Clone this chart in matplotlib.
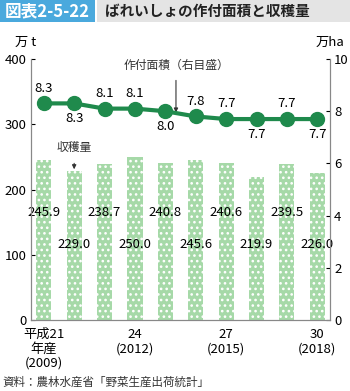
import matplotlib
matplotlib.use("Agg")
import matplotlib.pyplot as plt
from matplotlib.patches import Rectangle

plt.rcParams["font.family"] = ["Noto Sans CJK JP", "DejaVu Sans"]
plt.rcParams["hatch.linewidth"] = 1.1

# ---------------------------------------------------------------------------
# Data
# ---------------------------------------------------------------------------
years = list(range(10))
harvest = [245.9, 229.0, 238.7, 250.0, 240.8, 245.6, 240.6, 219.9, 239.5, 226.0]   # 万t
area = [8.3, 8.3, 8.1, 8.1, 8.0, 7.8, 7.7, 7.7, 7.7, 7.7]                           # 万ha
area_label_side = [1, -1, 1, 1, -1, 1, 1, -1, 1, -1]     # above / below the marker
tick_pos = [0, 3, 6, 9]
tick_labels = ["平成21\n年産\n(2009)", "24\n(2012)", "27\n(2015)", "30\n(2018)"]

BAR_COLOR = "#a6d9a8"
LINE_COLOR = "#1f8a4c"
HEAD_BLUE = "#4aa9dd"
HEAD_GRAY = "#e4e4e4"

fig = plt.figure(figsize=(3.5, 3.91), dpi=100)
ax = fig.add_axes([0.0886, 0.1816, 0.8544, 0.6674])
ax2 = ax.twinx()

# bars (left axis)
ax.bar(years, harvest, width=0.5, color=BAR_COLOR, edgecolor="white",
       linewidth=0, hatch="...", zorder=2)
for i, v in enumerate(harvest):
    ly = 165 if i % 2 == 0 else 116
    ax.text(i, ly, f"{v:.1f}", ha="center", va="center", fontsize=9.5, zorder=5)

ax.set_xlim(-0.42, 9.42)
ax.set_ylim(0, 400)
ax.set_yticks([0, 100, 200, 300, 400])
ax.set_xticks(tick_pos)
ax.set_xticklabels(tick_labels, fontsize=9.5, linespacing=1.1)
ax.tick_params(axis="x", length=0, pad=6)
ax.tick_params(axis="y", direction="in", length=3, labelsize=9.5, pad=3)
for s in ["top"]:
    ax.spines[s].set_visible(False)
    ax2.spines[s].set_visible(False)
for a in (ax, ax2):
    for s in ["left", "right", "bottom"]:
        a.spines[s].set_color("#888888")
        a.spines[s].set_linewidth(0.8)

# line (right axis)
ax2.plot(years, area, color=LINE_COLOR, lw=3, marker="o", markersize=10, zorder=4)
for i, v in enumerate(area):
    ax2.annotate(f"{v:.1f}", (i, v), xytext=(0, 11 * area_label_side[i]),
                 textcoords="offset points", ha="center", va="center", fontsize=9.5)
ax2.set_ylim(0, 10)
ax2.set_yticks([0, 2, 4, 6, 8, 10])
ax2.tick_params(axis="y", direction="in", length=3, labelsize=9.5, pad=3)

# callouts
ax2.annotate("作付面積（右目盛）", xy=(4.35, 7.95), xytext=(4.35, 9.75),
             ha="center", va="center", fontsize=8.5, color="#333333",
             arrowprops=dict(arrowstyle="-|>", color="#333333", lw=0.8,
                             mutation_scale=6, shrinkA=4, shrinkB=0))
ax.annotate("収穫量", xy=(1, harvest[1] + 2), xytext=(1, 265),
            ha="center", va="center", fontsize=8.5, color="#333333",
            arrowprops=dict(arrowstyle="-|>", color="#333333", lw=0.8,
                            mutation_scale=6, shrinkA=5, shrinkB=0))

# unit labels
fig.text(0.043, 0.892, "万 t", fontsize=9.5, ha="left", va="center")
fig.text(0.985, 0.892, "万ha", fontsize=9.5, ha="right", va="center")

# header
fig.patches.append(Rectangle((0, 0.944), 0.271, 0.056, transform=fig.transFigure,
                             facecolor=HEAD_BLUE, edgecolor="none"))
fig.patches.append(Rectangle((0.277, 0.944), 0.723, 0.056, transform=fig.transFigure,
                             facecolor=HEAD_GRAY, edgecolor="none"))
fig.text(0.135, 0.972, "図表2-5-22", color="white", fontsize=12, fontweight="bold",
         ha="center", va="center")
fig.text(0.300, 0.972, "ばれいしょの作付面積と収穫量", color="#222222", fontsize=10.5,
         fontweight="bold", ha="left", va="center")

# source
fig.text(0.006, 0.022, "資料：農林水産省「野菜生産出荷統計」", fontsize=8.3,
         ha="left", va="center", color="#333333")

fig.savefig("out.png", dpi=100)
